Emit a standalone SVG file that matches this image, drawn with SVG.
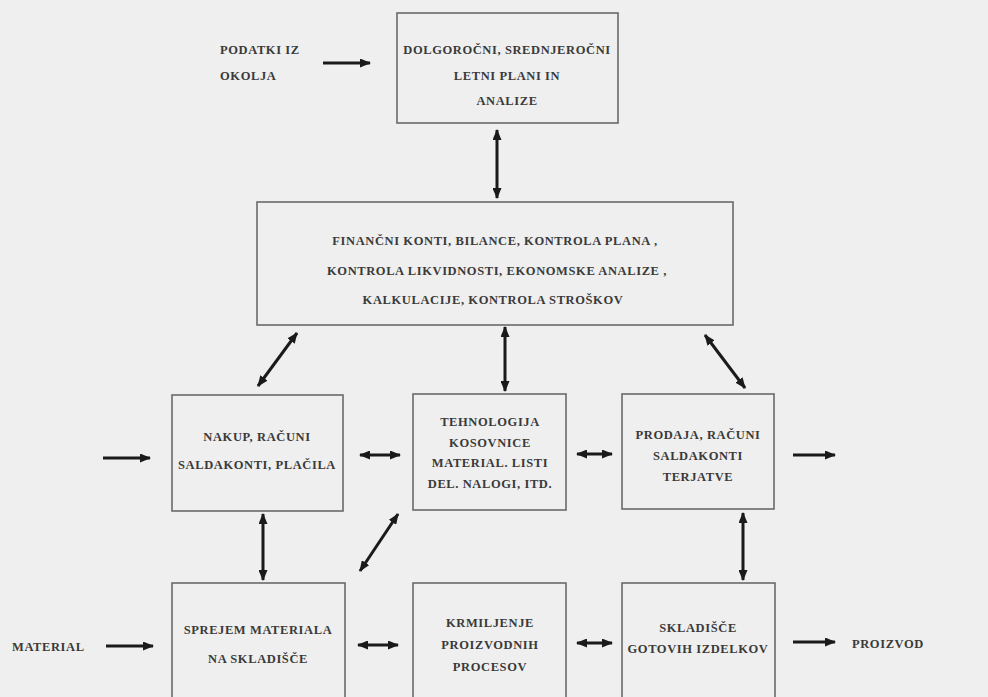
<svg xmlns="http://www.w3.org/2000/svg" width="988" height="697" viewBox="0 0 988 697">
<defs>
<marker id="ah" markerUnits="userSpaceOnUse" markerWidth="11" markerHeight="9" refX="10" refY="4.5" orient="auto-start-reverse" viewBox="0 0 11 9">
<path d="M0,0 L11,4.5 L0,9 z" fill="#1a1a1a"/>
</marker>
<style>
.box{fill:none;stroke:#6a6a6a;stroke-width:1.6}
.t{font-family:"Liberation Serif","DejaVu Serif",serif;font-size:12.5px;font-weight:bold;fill:#3a3a3a;text-anchor:middle;dominant-baseline:central;letter-spacing:0.6px}
.tl{text-anchor:start}
.a1{stroke:#1a1a1a;stroke-width:3;fill:none;marker-end:url(#ah)}
.a2{stroke:#1a1a1a;stroke-width:3;fill:none;marker-start:url(#ah);marker-end:url(#ah)}
</style>
</defs>
<rect x="0" y="0" width="988" height="697" fill="#efefef"/>

<g id="podatki">
<text class="t tl" x="220" y="50">PODATKI IZ</text>
<text class="t tl" x="220" y="76">OKOLJA</text>
</g>
<g id="plani">
<rect class="box" x="397" y="13" width="221" height="110"/>
<text class="t" x="507" y="50">DOLGOROČNI, SREDNJEROČNI</text>
<text class="t" x="507" y="76">LETNI PLANI IN</text>
<text class="t" x="507" y="101">ANALIZE</text>
</g>
<g id="finance">
<rect class="box" x="257" y="202" width="476" height="123"/>
<text class="t" x="495" y="241">FINANČNI KONTI, BILANCE, KONTROLA PLANA ,</text>
<text class="t" x="497" y="271">KONTROLA LIKVIDNOSTI, EKONOMSKE ANALIZE ,</text>
<text class="t" x="493" y="300">KALKULACIJE, KONTROLA STROŠKOV</text>
</g>
<g id="nakup">
<rect class="box" x="172" y="395" width="171" height="116"/>
<text class="t" x="257" y="437">NAKUP, RAČUNI</text>
<text class="t" x="257" y="465">SALDAKONTI, PLAČILA</text>
</g>
<g id="tehnologija">
<rect class="box" x="413" y="394" width="153" height="116"/>
<text class="t" x="490" y="422">TEHNOLOGIJA</text>
<text class="t" x="490" y="443">KOSOVNICE</text>
<text class="t" x="490" y="463">MATERIAL. LISTI</text>
<text class="t" x="490" y="484">DEL. NALOGI, ITD.</text>
</g>
<g id="prodaja">
<rect class="box" x="622" y="394" width="152" height="115"/>
<text class="t" x="698" y="435">PRODAJA, RAČUNI</text>
<text class="t" x="698" y="456">SALDAKONTI</text>
<text class="t" x="698" y="477">TERJATVE</text>
</g>
<g id="material">
<text class="t tl" x="12" y="647">MATERIAL</text>
</g>
<g id="sprejem">
<rect class="box" x="172" y="583" width="173" height="140"/>
<text class="t" x="258" y="630">SPREJEM MATERIALA</text>
<text class="t" x="258" y="659">NA SKLADIŠČE</text>
</g>
<g id="krmiljenje">
<rect class="box" x="413" y="583" width="153" height="140"/>
<text class="t" x="490" y="623">KRMILJENJE</text>
<text class="t" x="490" y="645">PROIZVODNIH</text>
<text class="t" x="490" y="667">PROCESOV</text>
</g>
<g id="skladisce">
<rect class="box" x="622" y="583" width="153" height="140"/>
<text class="t" x="698" y="628">SKLADIŠČE</text>
<text class="t" x="698" y="649">GOTOVIH IZDELKOV</text>
</g>
<g id="proizvod">
<text class="t tl" x="852" y="644">PROIZVOD</text>
</g>

<g id="connectors">
<line class="a1" x1="323" y1="63" x2="370" y2="63"/>
<line class="a2" x1="497" y1="130" x2="497" y2="198"/>
<line class="a2" x1="297" y1="333" x2="258" y2="386"/>
<line class="a2" x1="505" y1="327" x2="505" y2="391"/>
<line class="a2" x1="705" y1="335" x2="745" y2="388"/>
<line class="a1" x1="103" y1="458" x2="150" y2="458"/>
<line class="a2" x1="360" y1="455" x2="400" y2="455"/>
<line class="a2" x1="577" y1="454" x2="612" y2="454"/>
<line class="a1" x1="793" y1="455" x2="835" y2="455"/>
<line class="a2" x1="263" y1="514" x2="263" y2="580"/>
<line class="a2" x1="398" y1="514" x2="360" y2="571"/>
<line class="a2" x1="743" y1="513" x2="743" y2="580"/>
<line class="a1" x1="106" y1="646" x2="153" y2="646"/>
<line class="a2" x1="358" y1="645" x2="398" y2="645"/>
<line class="a2" x1="577" y1="643" x2="612" y2="643"/>
<line class="a1" x1="793" y1="642" x2="835" y2="642"/>
</g>
</svg>
